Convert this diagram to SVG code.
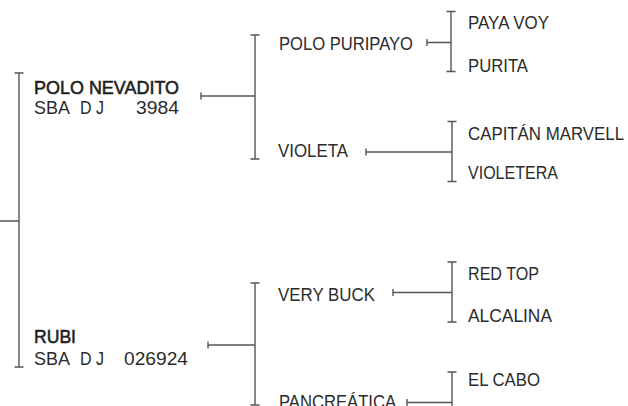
<svg xmlns="http://www.w3.org/2000/svg" width="628" height="406" viewBox="0 0 628 406">
<style>
.t{font-family:"Liberation Sans",Arial,sans-serif;font-size:19px;fill:#2b2b2b}
.s{font-size:17.5px}
.b{font-size:18px;stroke:#1e1e1e;stroke-width:0.55;fill:#1e1e1e}
.c{stroke:#555;stroke-width:1.4;fill:none}
</style>
<rect width="628" height="406" fill="#fff"/>
<g id="connectors" class="c">
<path d="M0 221H19M19 73V367M14.5 73H23.5M14.5 367H23.5"/>
<path d="M201 92.5V99.5M201 96H255M255 35V159M250.5 35H259.5M250.5 159H259.5"/>
<path d="M208 341.5V348.5M208 345H255M255 283V405M250.5 283H259.5M250.5 405H259.5"/>
<path d="M427 39V46M427 42.5H451M451 11.5V71.5M446.5 11.5H455.5M446.5 71.5H455.5"/>
<path d="M366 148.5V155.5M366 152H452M452 121.5V181.5M447.5 121.5H456.5M447.5 181.5H456.5"/>
<path d="M393 289V296M393 292.5H452M452 262V322M447.5 262H456.5M447.5 322H456.5"/>
<path d="M407 399V406M407 402.5H452M452 372V433M447.5 372H456.5"/>
</g>
<g id="polo-nevadito">
<text class="t b" x="34" y="93.5" textLength="145" lengthAdjust="spacingAndGlyphs">POLO NEVADITO</text>
<text class="t s" y="113.5"><tspan x="34" textLength="35" lengthAdjust="spacingAndGlyphs">SBA</tspan> <tspan x="80" textLength="24" lengthAdjust="spacingAndGlyphs">D J</tspan> <tspan x="136" textLength="43" lengthAdjust="spacingAndGlyphs">3984</tspan></text>
</g>
<g id="rubi">
<text class="t b" x="34" y="343" textLength="42" lengthAdjust="spacingAndGlyphs">RUBI</text>
<text class="t s" y="365"><tspan x="34" textLength="35" lengthAdjust="spacingAndGlyphs">SBA</tspan> <tspan x="80" textLength="24" lengthAdjust="spacingAndGlyphs">D J</tspan> <tspan x="124" textLength="64" lengthAdjust="spacingAndGlyphs">026924</tspan></text>
</g>
<g id="polo-puripayo"><text class="t" x="279" y="50" textLength="134" lengthAdjust="spacingAndGlyphs">POLO PURIPAYO</text></g>
<g id="violeta"><text class="t" x="278" y="157" textLength="70" lengthAdjust="spacingAndGlyphs">VIOLETA</text></g>
<g id="very-buck"><text class="t" x="278" y="301" textLength="97" lengthAdjust="spacingAndGlyphs">VERY BUCK</text></g>
<g id="pancreatica"><text class="t" x="279" y="408" textLength="117" lengthAdjust="spacingAndGlyphs">PANCREÁTICA</text></g>
<g id="paya-voy"><text class="t" x="468" y="29" textLength="81" lengthAdjust="spacingAndGlyphs">PAYA VOY</text></g>
<g id="purita"><text class="t" x="468" y="72" textLength="60" lengthAdjust="spacingAndGlyphs">PURITA</text></g>
<g id="capitan-marvell"><text class="t" x="468" y="140" textLength="156" lengthAdjust="spacingAndGlyphs">CAPITÁN MARVELL</text></g>
<g id="violetera"><text class="t" x="468" y="179" textLength="90" lengthAdjust="spacingAndGlyphs">VIOLETERA</text></g>
<g id="red-top"><text class="t" x="468" y="280" textLength="71" lengthAdjust="spacingAndGlyphs">RED TOP</text></g>
<g id="alcalina"><text class="t" x="468" y="322" textLength="84" lengthAdjust="spacingAndGlyphs">ALCALINA</text></g>
<g id="el-cabo"><text class="t" x="468" y="386" textLength="72" lengthAdjust="spacingAndGlyphs">EL CABO</text></g>
</svg>
